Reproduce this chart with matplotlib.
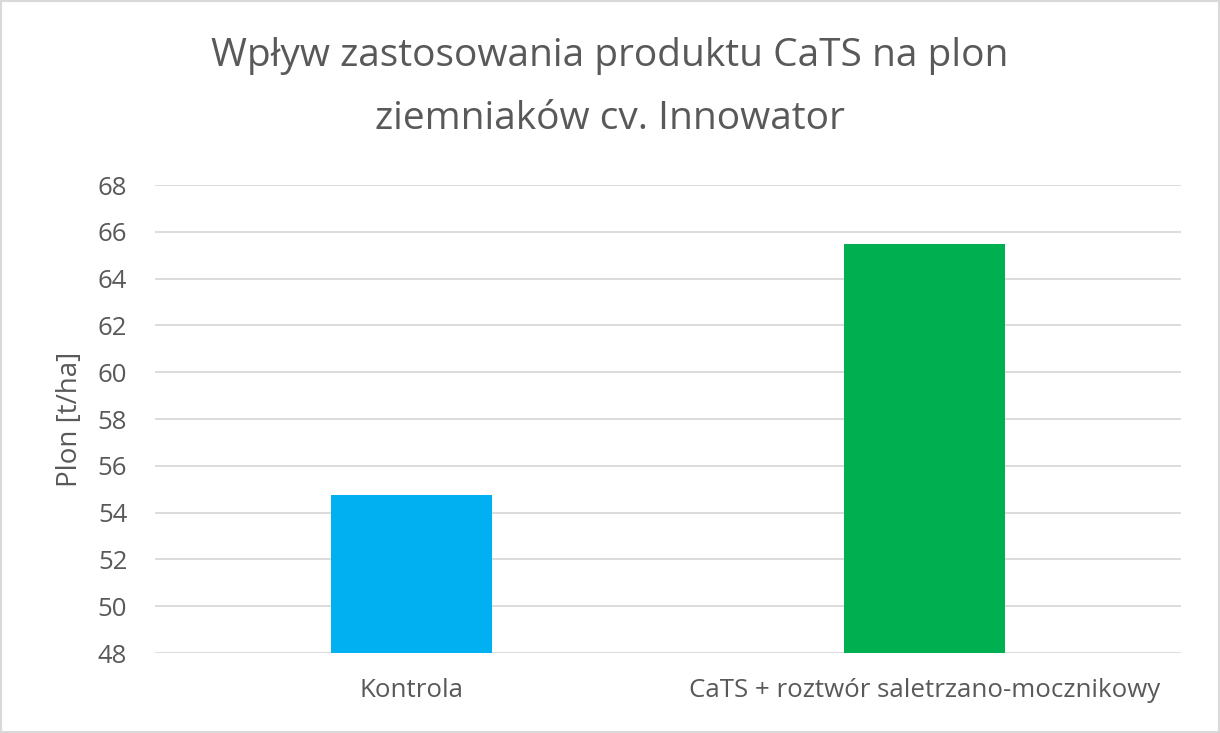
import matplotlib
matplotlib.use("Agg")
import matplotlib.pyplot as plt
from matplotlib.patches import Rectangle

categories = ["Kontrola", "CaTS + roztwór saletrzano-mocznikowy"]
values = [54.74, 65.47]
colors = ["#00B0F0", "#00B050"]
yticks = [48, 50, 52, 54, 56, 58, 60, 62, 64, 66, 68]
title_lines = ["Wpływ zastosowania produktu CaTS na plon", "ziemniaków cv. Innowator"]

plt.rcParams['font.family'] = ['Open Sans', 'DejaVu Sans']
fig = plt.figure(figsize=(12.2, 7.33), dpi=100)
fig.patch.set_facecolor("white")
ax = fig.add_axes([155/1220, 1-653/733, (1181-155)/1220, (653-185)/733])

x = list(range(len(categories)))
ax.bar(x, values, width=0.314, color=colors, zorder=3)
ax.set_xlim(-0.5, 1.5)
ax.set_ylim(48, 68)
ax.set_yticks(yticks)
ax.set_xticks(x)
ax.set_xticklabels(categories)
ax.grid(axis="y", color="#D9D9D9", linewidth=1.3, zorder=0)
for s in ax.spines.values():
    s.set_visible(False)
ax.tick_params(axis="y", length=0, labelsize=18.5, labelcolor="#595959", pad=20)
ax.tick_params(axis="x", length=0, labelsize=18.6, labelcolor="#595959", pad=18)
ax.set_ylabel("Plon [t/ha]", fontsize=20, color="#595959", labelpad=10)

fig.text(0.5, 1-66/733, title_lines[0], ha="center", va="baseline",
         fontsize=28, color="#595959")
fig.text(0.5, 1-129/733, title_lines[1], ha="center", va="baseline",
         fontsize=28, color="#595959")

fig.patches.append(Rectangle((0.001, 0.001), 0.998, 0.997, transform=fig.transFigure,
                             fill=False, edgecolor="#D9D9D9", linewidth=1.5))
fig.savefig("out.png", dpi=100, facecolor="white")
